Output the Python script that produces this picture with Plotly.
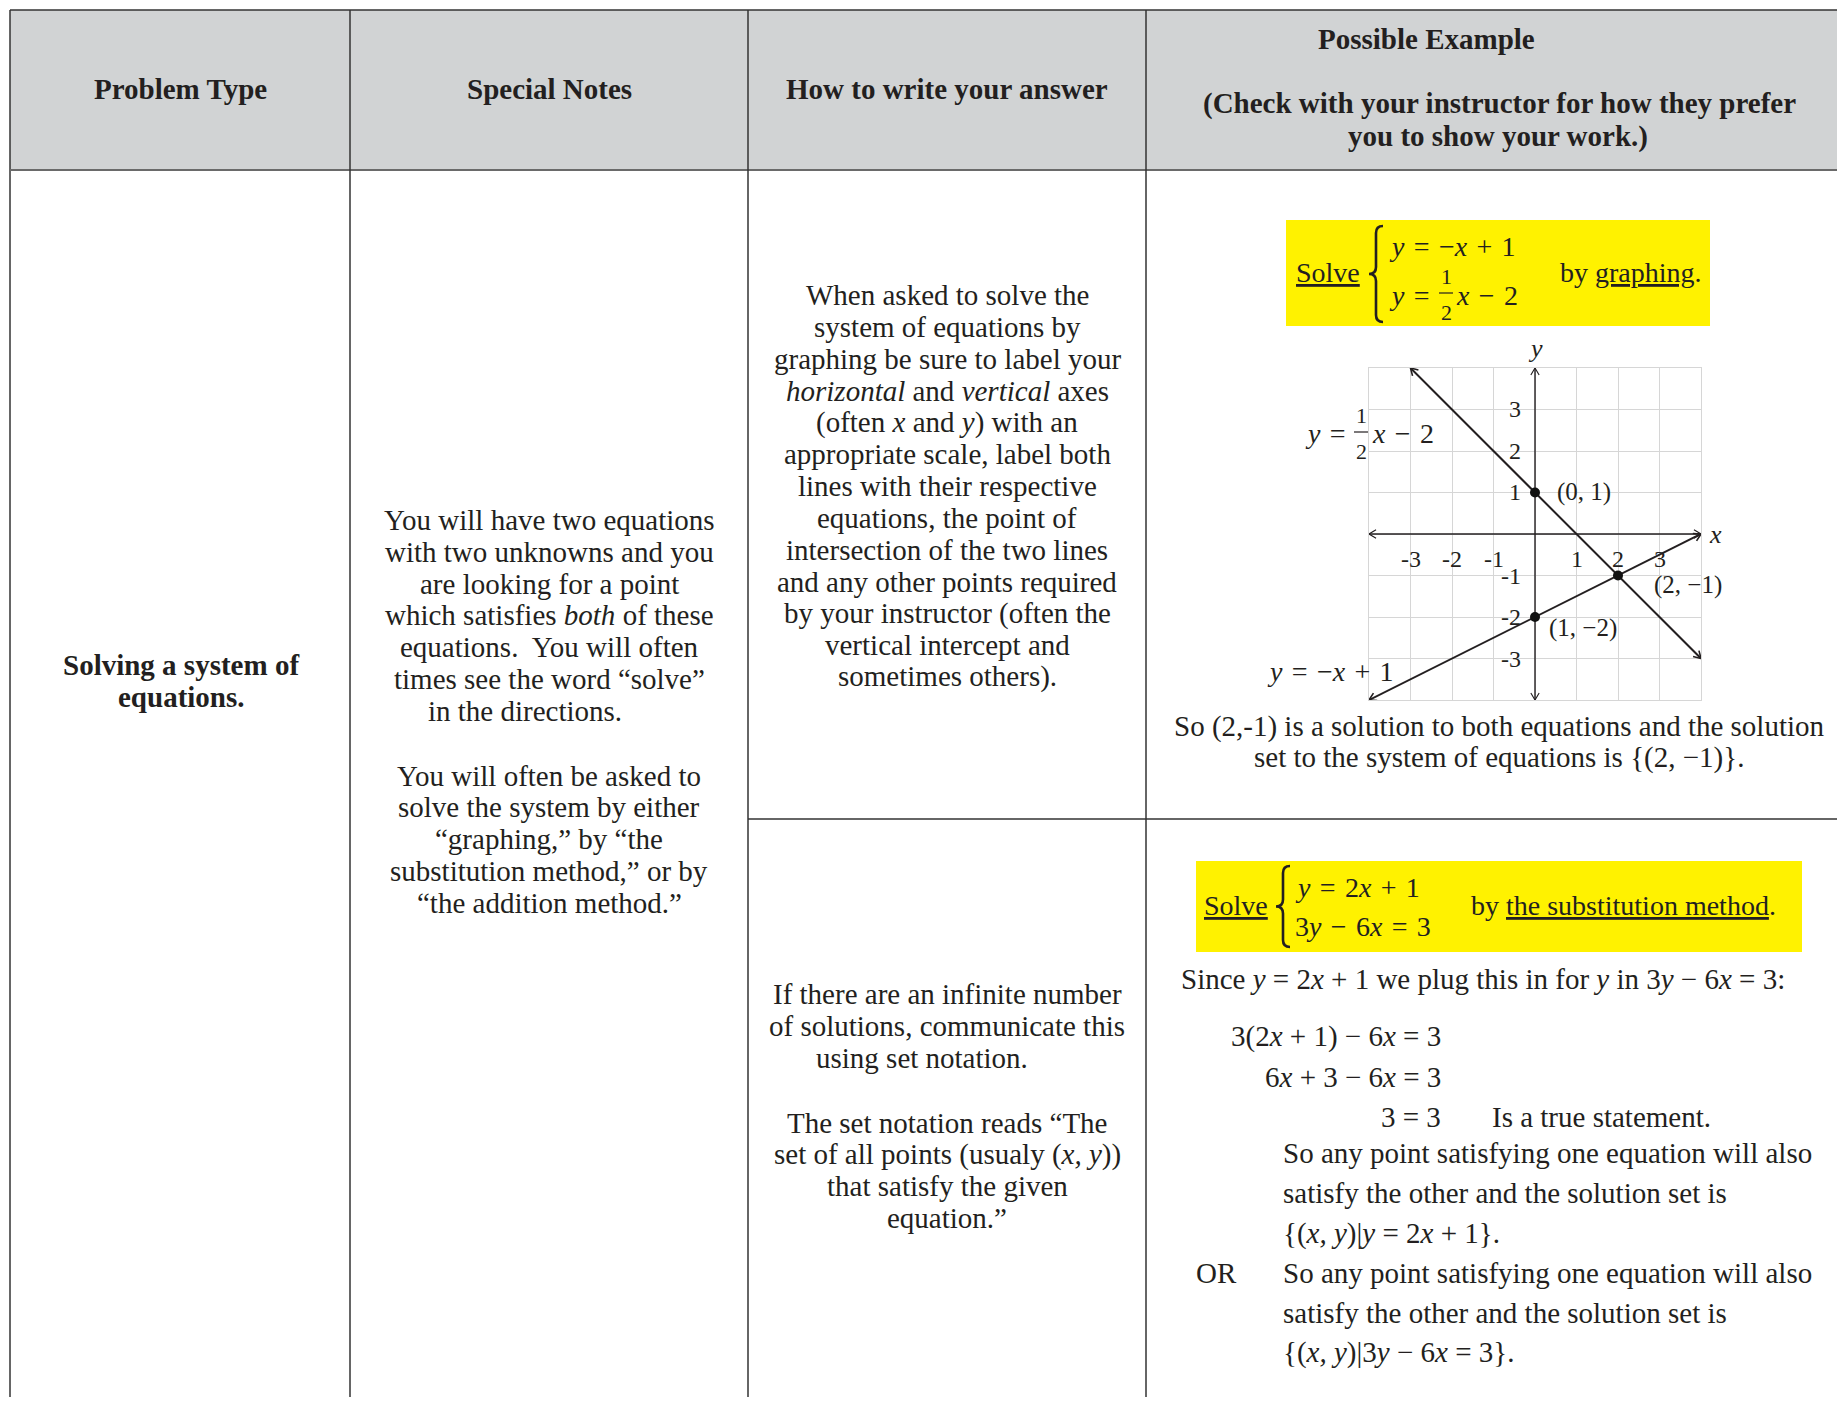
import numpy as np
import plotly.graph_objects as go

# the html page has an 8px body margin, so the figure is a bit smaller
OFF = 8
W, H = 1845 - 2 * OFF, 1405 - 2 * OFF
FONT = 'Liberation Serif'
INK = '#231f20'
SP = '\u2004'   # slightly wider space used around = and + in the math

# ---- data for the small graph ----
grid_ticks = [-4, -3, -2, -1, 0, 1, 2, 3, 4]
tick_vals = [-3, -2, -1, 1, 2, 3]
line_a_x = [-3, 4]          # y = -x + 1
line_a_y = [4, -3]
line_b_x = [-4, 4]          # y = 1/2 x - 2
line_b_y = [-4, 0]
axis_x_x = [-4, 4]
axis_x_y = [0, 0]
axis_y_x = [0, 0]
axis_y_y = [-4, 4]
point_x = [0, 2, 0]
point_y = [1, -1, -2]
point_labels = ['(0, 1)', '(2, −1)', '(1, −2)']

# ---- table text ----
headers = ['Problem Type', 'Special Notes', 'How to write your answer']
header_example = ['Possible Example',
                  '(Check with your instructor for how they prefer',
                  'you to show your work.)']
problem_type = ['Solving a system of', 'equations.']
notes_1 = ['You will have two equations', 'with two unknowns and you',
           'are looking for a point', 'which satisfies <i>both</i> of these',
           'equations.  You will often', 'times see the word “solve”',
           'in the directions.']
notes_2 = ['You will often be asked to', 'solve the system by either',
           '“graphing,” by “the', 'substitution method,” or by',
           '“the addition method.”']
answer_1 = ['When asked to solve the', 'system of equations by',
            'graphing be sure to label your',
            '<i>horizontal</i> and <i>vertical</i> axes',
            '(often <i>x</i> and <i>y</i>) with an',
            'appropriate scale, label both', 'lines with their respective',
            'equations, the point of', 'intersection of the two lines',
            'and any other points required', 'by your instructor (often the',
            'vertical intercept and', 'sometimes others).']
answer_2 = ['If there are an infinite number', 'of solutions, communicate this',
            'using set notation.']
answer_3 = ['The set notation reads “The',
            'set of all points (usualy (<i>x, y</i>))',
            'that satisfy the given', 'equation.”']
graph_summary = ['So (2,-1) is a solution to both equations and the solution',
                 'set to the system of equations is {(2, −1)}.']
steps_left = ['3(2<i>x</i> + 1) − 6<i>x</i> = 3', '6<i>x</i> + 3 − 6<i>x</i> = 3',
              '3 = 3']
set_1 = ['So any point satisfying one equation will also',
         'satisfy the other and the solution set is',
         '{(<i>x, y</i>)|<i>y</i> = 2<i>x</i> + 1}.']
set_2 = ['So any point satisfying one equation will also',
         'satisfy the other and the solution set is',
         '{(<i>x, y</i>)|3<i>y</i> − 6<i>x</i> = 3}.']

annotations = []
shapes = []


def txt(x, y, s, size=29, anchor='center', ref=('x', 'y'), **kw):
    '''adds one line of text, positions are page pixels unless ref says so'''
    annotations.append(dict(x=x, y=y, xref=ref[0], yref=ref[1], text=s,
                            showarrow=False, xanchor=anchor, yanchor='middle',
                            font=dict(family=FONT, size=size, color=INK), **kw))


def lines_of(texts, x, y0, step=31.8, **kw):
    for i, s in enumerate(texts):
        txt(x, y0 + i * step, s, **kw)


def seg(x0, y0, x1, y1, color='#333333', width=1.5):
    shapes.append(dict(type='line', xref='x', yref='y', x0=x0, y0=y0,
                       x1=x1, y1=y1, line=dict(color=color, width=width)))


def brace(x, y0, y1, w):
    '''left curly brace as an svg path'''
    xm, xt, ym, r = x - w / 2, x - w, (y0 + y1) / 2, w / 2
    p = (f'M{x},{y0} Q{xm},{y0} {xm},{y0 + r} L{xm},{ym - r} '
         f'Q{xm},{ym} {xt},{ym} Q{xm},{ym} {xm},{ym + r} '
         f'L{xm},{y1 - r} Q{xm},{y1} {x},{y1}')
    shapes.append(dict(type='path', xref='x', yref='y', path=p,
                       line=dict(color=INK, width=2.6)))


def frac(x, ytop, ybot, size=22):
    txt(x, ytop, '1', size=size)
    txt(x, ybot, '2', size=size)
    seg(x - 7, (ytop + ybot) / 2 - 1, x + 7, (ytop + ybot) / 2 - 1,
        color=INK, width=1.2)


def arrow_heads(xs, ys, size=0.17, spread=0.1):
    '''open V arrow heads at both ends of a segment, in data units'''
    hx, hy = [], []
    ends = [((xs[0], ys[0]), (xs[1], ys[1])), ((xs[1], ys[1]), (xs[0], ys[0]))]
    for (x0, y0), (x1, y1) in ends:
        d = np.array([x1 - x0, y1 - y0], float)
        u = d / np.hypot(*d)
        n = np.array([-u[1], u[0]])
        a = np.array([x1, y1]) - size * u + spread * n
        b = np.array([x1, y1]) - size * u - spread * n
        hx += [a[0], x1, b[0], None]
        hy += [a[1], y1, b[1], None]
    return hx, hy


# ---- table frame ----
R, B = OFF + W, OFF + H
shapes.append(dict(type='rect', xref='x', yref='y', x0=10, y0=10, x1=R, y1=170,
                   fillcolor='#d1d3d4', line=dict(width=0), layer='below'))
# yellow boxes
for bx in [(1286, 220, 1710, 326), (1196, 861, 1802, 952)]:
    shapes.append(dict(type='rect', xref='x', yref='y', x0=bx[0], y0=bx[1],
                       x1=bx[2], y1=bx[3], fillcolor='#fff200',
                       line=dict(width=0), layer='below'))
seg(10, 10, R, 10)
seg(10, 10, 10, B)
seg(10, 170, R, 170, color='#6a6a6a', width=2)
for cx in [350, 748, 1146]:
    seg(cx, 10, cx, B)
seg(748, 819, R, 819)

# ---- header ----
for cx, s in zip([180, 549, 947], headers):
    txt(cx, 89, f'<b>{s}</b>', size=29)
txt(1426, 39, f'<b>{header_example[0]}</b>', size=29)
txt(1499, 103, f'<b>{header_example[1]}</b>', size=29)
txt(1498, 136, f'<b>{header_example[2]}</b>', size=29)

# ---- column 1 and 2 ----
txt(181, 665, f'<b>{problem_type[0]}</b>', size=29)
txt(181, 697, f'<b>{problem_type[1]}</b>', size=29)
lines_of(notes_1[:-1], 549, 520)
txt(525, 520 + 6 * 31.8, notes_1[-1])
lines_of(notes_2, 549, 775.5)

# ---- column 3 ----
lines_of(answer_1, 947, 295.3)
lines_of(answer_2[:-1], 947, 994.3)
txt(922, 1058, answer_2[-1])
lines_of(answer_3, 947, 1122.6)

# ---- column 4, graphing example ----
txt(1294, 272, '<u>Solve</u>', size=28, anchor='left')
brace(1383, 226, 322, 14)
txt(1387, 246, f'<i>y</i>{SP}={SP}−<i>x</i>{SP}+{SP}1', size=28, anchor='left')
txt(1387, 295, f'<i>y</i>{SP}={SP}', size=28, anchor='left')
frac(1446, 276, 312)
txt(1454, 295, f'<i>x</i>{SP}−{SP}2', size=28, anchor='left')
txt(1558, 272, 'by <u>graphing</u>.', size=28, anchor='left')

txt(1303, 433, f'<i>y</i>{SP}={SP}', size=28, anchor='left')
frac(1361, 415, 451)
txt(1370, 433, f'<i>x</i>{SP}−{SP}2', size=28, anchor='left')
txt(1265, 671, f'<i>y</i>{SP}={SP}−<i>x</i>{SP}+{SP}1', size=28, anchor='left')
lines_of(graph_summary, 1499, 726)

# ---- column 4, substitution example ----
txt(1202, 905, '<u>Solve</u>', size=28, anchor='left')
brace(1290, 866, 947, 14)
txt(1293, 887, f'<i>y</i>{SP}={SP}2<i>x</i>{SP}+{SP}1', size=28, anchor='left')
txt(1293, 926, f'3<i>y</i>{SP}−{SP}6<i>x</i>{SP}={SP}3', size=28, anchor='left')
txt(1469, 905, 'by <u>the substitution method</u>.', size=28, anchor='left')
txt(1179, 979, 'Since <i>y</i> = 2<i>x</i> + 1 we plug this in for <i>y</i> '
    'in 3<i>y</i> − 6<i>x</i> = 3:', anchor='left')
for i, s in enumerate(steps_left):
    txt(1443, 1036 + i * 40.5, s, anchor='right')
txt(1490, 1117, 'Is a true statement.', anchor='left')
lines_of(set_1, 1281, 1153, step=40, anchor='left')
txt(1194, 1273, 'OR', anchor='left')
lines_of(set_2, 1281, 1273, step=39.5, anchor='left')

# ---- the graph, on its own axes ----
fig = go.Figure()
gref = dict(xaxis='x2', yaxis='y2')
for xs, ys, wd in [(axis_x_x, axis_x_y, 1.4), (axis_y_x, axis_y_y, 1.4),
                   (line_a_x, line_a_y, 2), (line_b_x, line_b_y, 2)]:
    fig.add_trace(go.Scatter(x=xs, y=ys, mode='lines', showlegend=False,
                             line=dict(color=INK, width=wd), hoverinfo='skip',
                             **gref))
    hx, hy = arrow_heads(xs, ys)
    fig.add_trace(go.Scatter(x=hx, y=hy, mode='lines', showlegend=False,
                             line=dict(color=INK, width=wd * 0.8),
                             hoverinfo='skip', **gref))
fig.add_trace(go.Scatter(x=point_x, y=point_y, mode='markers', showlegend=False,
                         marker=dict(size=10, color='#111111'), **gref))

g = ('x2', 'y2')
for v in tick_vals:
    txt(v, 0, str(v), size=24, ref=g, yshift=-25)
    txt(0, v, str(v), size=24, ref=g, anchor='right', xshift=-12)
shifts = [(20, 0), (34, -9), (12, -11)]
for px, py, s, (dx, dy) in zip(point_x, point_y, point_labels, shifts):
    txt(px, py, s, size=25, ref=g, anchor='left', xshift=dx, yshift=dy)
# axis names, anchored at the axis ends so they stay inside the range
txt(axis_x_x[1], 0, '<i>x</i>', size=26, ref=g, xshift=14)
txt(0, axis_y_y[1], '<i>y</i>', size=26, ref=g, yshift=19)


def dom_x(a, b):
    return [(a - OFF) / W, (b - OFF) / W]


def dom_y(top, bottom):
    return [1 - (bottom - OFF) / H, 1 - (top - OFF) / H]


grid_axis = dict(range=[-4, 4], tickvals=grid_ticks, showticklabels=False,
                 ticks='', showgrid=True, gridcolor='#d6d6d6', gridwidth=1,
                 zeroline=False, showline=True, mirror=True,
                 linecolor='#d6d6d6', fixedrange=True)

fig.update_layout(
    width=W, height=H,
    margin=dict(l=0, r=0, t=0, b=0),
    paper_bgcolor='white', plot_bgcolor='white',
    xaxis=dict(range=[OFF, OFF + W], visible=False, domain=[0, 1],
               fixedrange=True),
    yaxis=dict(range=[OFF + H, OFF], visible=False, domain=[0, 1],
               fixedrange=True),
    xaxis2=dict(domain=dom_x(1369, 1701), anchor='y2', **grid_axis),
    yaxis2=dict(domain=dom_y(368, 700), anchor='x2', **grid_axis),
    shapes=shapes,
    annotations=annotations,
)

fig.write_html("out.html")
